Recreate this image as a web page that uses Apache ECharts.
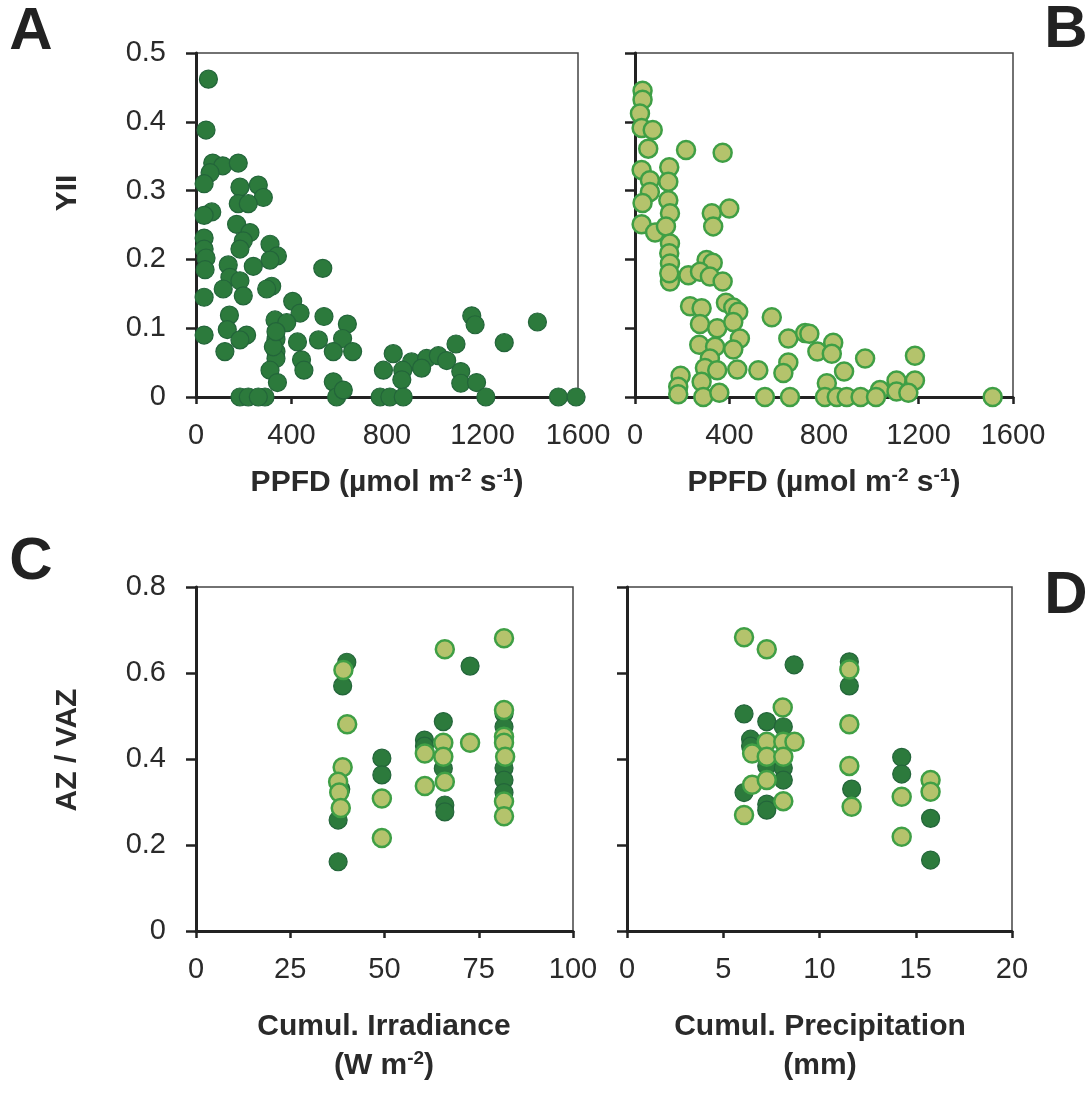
<!DOCTYPE html>
<html>
<head>
<meta charset="utf-8">
<script src="https://cdn.jsdelivr.net/npm/echarts@6/dist/echarts.min.js"></script>
<style>
html,body{margin:0;padding:0;background:#fff;}
#chart{width:1092px;height:1093px;}
</style>
</head>
<body>
<div id="chart"></div>
<script>
// ---------- DATA ----------
// Panel A: PPFD vs YII (dark markers)
const panelA = [[52,0.462],[42,0.388],[70,0.340],[112,0.336],[177,0.340],[59,0.326],[34,0.310],[184,0.305],[261,0.308],[282,0.290],[177,0.281],[219,0.281],[66,0.269],[34,0.264],[170,0.251],[226,0.239],[34,0.231],[198,0.227],[310,0.222],[184,0.215],[34,0.215],[341,0.205],[42,0.202],[310,0.199],[135,0.192],[240,0.190],[38,0.185],[531,0.187],[142,0.174],[184,0.169],[317,0.161],[296,0.157],[114,0.157],[198,0.147],[34,0.145],[405,0.139],[436,0.122],[140,0.119],[331,0.112],[380,0.108],[536,0.117],[634,0.106],[1155,0.118],[1169,0.105],[1430,0.109],[131,0.098],[34,0.090],[212,0.090],[184,0.083],[335,0.084],[425,0.080],[513,0.083],[614,0.085],[1291,0.079],[121,0.066],[335,0.066],[575,0.066],[656,0.066],[826,0.063],[335,0.056],[442,0.054],[903,0.051],[966,0.056],[1015,0.060],[1050,0.053],[1089,0.077],[945,0.042],[785,0.039],[866,0.039],[452,0.039],[310,0.039],[1109,0.037],[862,0.025],[1109,0.020],[1175,0.021],[341,0.021],[575,0.022],[184,0],[219,0],[289,0],[589,0],[617,0.010],[771,0],[812,0],[868,0],[1214,0],[1518,0],[1592,0],[261,0],[324,0.073],[335,0.095]];
// Panel B: PPFD vs YII (light markers)
const panelB = [[32,0.445],[32,0.432],[21,0.412],[28,0.391],[75,0.388],[56,0.361],[216,0.359],[371,0.355],[28,0.330],[145,0.334],[63,0.315],[141,0.313],[63,0.298],[141,0.286],[32,0.282],[148,0.267],[325,0.267],[399,0.274],[331,0.248],[28,0.251],[85,0.239],[131,0.248],[148,0.223],[145,0.209],[148,0.194],[303,0.199],[329,0.195],[226,0.177],[275,0.182],[317,0.175],[148,0.168],[371,0.168],[233,0.132],[282,0.129],[385,0.137],[416,0.130],[437,0.124],[579,0.116],[275,0.106],[348,0.100],[416,0.109],[649,0.085],[720,0.093],[738,0.092],[444,0.085],[272,0.076],[339,0.073],[416,0.069],[772,0.066],[839,0.079],[833,0.063],[974,0.056],[1185,0.060],[317,0.056],[649,0.050],[433,0.040],[522,0.039],[628,0.035],[296,0.042],[348,0.039],[885,0.037],[193,0.031],[282,0.022],[812,0.020],[1107,0.024],[1185,0.024],[1037,0.010],[183,0.015],[183,0.004],[289,0],[357,0.006],[550,0],[656,0],[804,0],[854,0],[896,0],[955,0],[1020,0],[1107,0.008],[1157,0.006],[1514,0],[145,0.180]];
// Panel C: cumulative irradiance vs AZ/VAZ
const panelCDark = [[40.0,0.625],[38.9,0.570],[37.7,0.258],[37.7,0.161],[38.4,0.330],[49.3,0.402],[49.3,0.363],[60.6,0.444],[60.6,0.430],[65.6,0.487],[65.6,0.378],[66.0,0.293],[66.0,0.277],[72.7,0.616],[81.7,0.505],[81.7,0.475],[81.7,0.379],[81.7,0.351],[81.7,0.322]];
const panelCLight = [[39.1,0.607],[40.1,0.481],[38.9,0.381],[37.7,0.347],[38.0,0.322],[38.4,0.286],[49.3,0.308],[49.3,0.216],[60.7,0.413],[60.7,0.337],[66.0,0.655],[65.6,0.438],[65.6,0.405],[66.0,0.347],[72.7,0.438],[81.7,0.681],[81.7,0.514],[81.7,0.452],[81.7,0.438],[82.0,0.405],[81.7,0.301],[81.7,0.267]];
// Panel D: cumulative precipitation vs AZ/VAZ
const panelDDark = [[8.68,0.619],[11.55,0.626],[11.55,0.570],[6.08,0.505],[7.26,0.487],[8.12,0.475],[6.42,0.446],[6.42,0.430],[7.26,0.384],[8.12,0.379],[8.12,0.351],[6.08,0.322],[7.26,0.295],[7.26,0.281],[11.67,0.330],[14.27,0.404],[14.27,0.365],[15.77,0.262],[15.77,0.165]];
const panelDLight = [[6.08,0.683],[7.26,0.655],[8.09,0.520],[11.55,0.608],[11.55,0.481],[11.55,0.384],[11.67,0.289],[7.26,0.440],[8.12,0.440],[8.70,0.440],[6.50,0.413],[7.26,0.405],[8.12,0.405],[6.50,0.340],[7.26,0.351],[8.12,0.302],[6.08,0.270],[14.27,0.312],[14.27,0.219],[15.77,0.351],[15.77,0.324]];

// axis settings (ranges / tick intervals)
const xRangePPFD = [0, 1600, 400];
const yRangeYII = [0, 0.5, 0.1];
const xRangeIrr = [0, 100, 25];
const xRangePrec = [0, 20, 5];
const yRangeAZ = [0, 0.8, 0.2];

// ---------- STYLE ----------
const FONT = "'Liberation Sans', Arial, Helvetica, sans-serif";
const DARK = {color:'#2c7a3c', borderColor:'#23653a', borderWidth:1.2, opacity:1};
const LIGHT = {color:'#b4c36c', borderColor:'#3f9f45', borderWidth:2.5, opacity:1};

const chart = echarts.init(document.getElementById('chart'), null, {renderer:'canvas'});

function fmt(v) { return String(Math.round(v * 1000) / 1000); }
function xAxis(gi, r) {
  return {type:'value', gridIndex:gi, min:r[0], max:r[1], interval:r[2],
    axisLine:{show:true, onZero:false, lineStyle:{color:'#222', width:3}},
    axisTick:{show:true, length:7, lineStyle:{color:'#222', width:2.5}},
    axisLabel:{show:true, fontSize:29, color:'#2a2a2a', fontFamily:FONT, margin:24, formatter:fmt},
    splitLine:{show:false}};
}
function yAxis(gi, r, labels) {
  return {type:'value', gridIndex:gi, min:r[0], max:r[1], interval:r[2],
    axisLine:{show:true, onZero:false, lineStyle:{color:'#222', width:3}},
    axisTick:{show:true, length:10, lineStyle:{color:'#222', width:2.5}},
    axisLabel:{show:labels, fontSize:29, color:'#2a2a2a', fontFamily:FONT, margin:30, formatter:fmt},
    splitLine:{show:false}};
}
function sc(data, gi, style) {
  return {type:'scatter', xAxisIndex:gi, yAxisIndex:gi, data:data, symbol:'circle',
    symbolSize:18, itemStyle:style, clip:false, silent:true, animation:false};
}
const gridBase = {show:true, borderColor:'#444', borderWidth:1.5, backgroundColor:'transparent'};

const sup = {fontSize:19, fontWeight:'bold', fontFamily:FONT, color:'#2a2a2a', padding:[0,0,14,0]};
const bt = {fontSize:30, fontWeight:'bold', fontFamily:FONT, color:'#2a2a2a'};
function txt(x, y, text, extra) {
  return Object.assign({type:'text', x:x, y:y, silent:true,
    style:Object.assign({text:text, align:'center', verticalAlign:'middle', fill:'#2a2a2a',
      font:"bold 30px " + FONT, rich:{b:bt, s:sup}}, extra && extra.style)}, extra && extra.el);
}
function letter(x, y, t) {
  return {type:'text', x:x, y:y, silent:true,
    style:{text:t, align:'center', verticalAlign:'middle', fill:'#222', font:"bold 60px " + FONT}};
}

const option = {
  backgroundColor:'#fff',
  animation:false,
  grid:[
    Object.assign({left:196, top:53, width:382, height:344}, gridBase),
    Object.assign({left:635, top:53, width:378, height:344}, gridBase),
    Object.assign({left:196, top:587, width:377, height:344}, gridBase),
    Object.assign({left:627, top:587, width:385, height:344}, gridBase)
  ],
  xAxis:[xAxis(0, xRangePPFD), xAxis(1, xRangePPFD), xAxis(2, xRangeIrr), xAxis(3, xRangePrec)],
  yAxis:[yAxis(0, yRangeYII, true), yAxis(1, yRangeYII, false), yAxis(2, yRangeAZ, true), yAxis(3, yRangeAZ, false)],
  series:[
    sc(panelA, 0, DARK),
    sc(panelB, 1, LIGHT),
    sc(panelCDark, 2, DARK),
    sc(panelCLight, 2, LIGHT),
    sc(panelDDark, 3, DARK),
    sc(panelDLight, 3, LIGHT)
  ],
  graphic:[
    letter(31, 32, 'A'), letter(1066, 30, 'B'), letter(31, 562, 'C'), letter(1066, 596, 'D'),
    txt(387, 483, '{b|PPFD (µmol m}{s|-2}{b| s}{s|-1}{b|)}'),
    txt(824, 483, '{b|PPFD (µmol m}{s|-2}{b| s}{s|-1}{b|)}'),
    txt(384, 1027, 'Cumul. Irradiance'),
    txt(384, 1066, '{b|(W m}{s|-2}{b|)}'),
    txt(820, 1027, 'Cumul. Precipitation'),
    txt(820, 1066, '(mm)'),
    txt(68, 193, 'YII', {el:{rotation:Math.PI/2}}),
    txt(68, 750, 'AZ / VAZ', {el:{rotation:Math.PI/2}})
  ]
};
chart.setOption(option);
</script>
</body>
</html>
